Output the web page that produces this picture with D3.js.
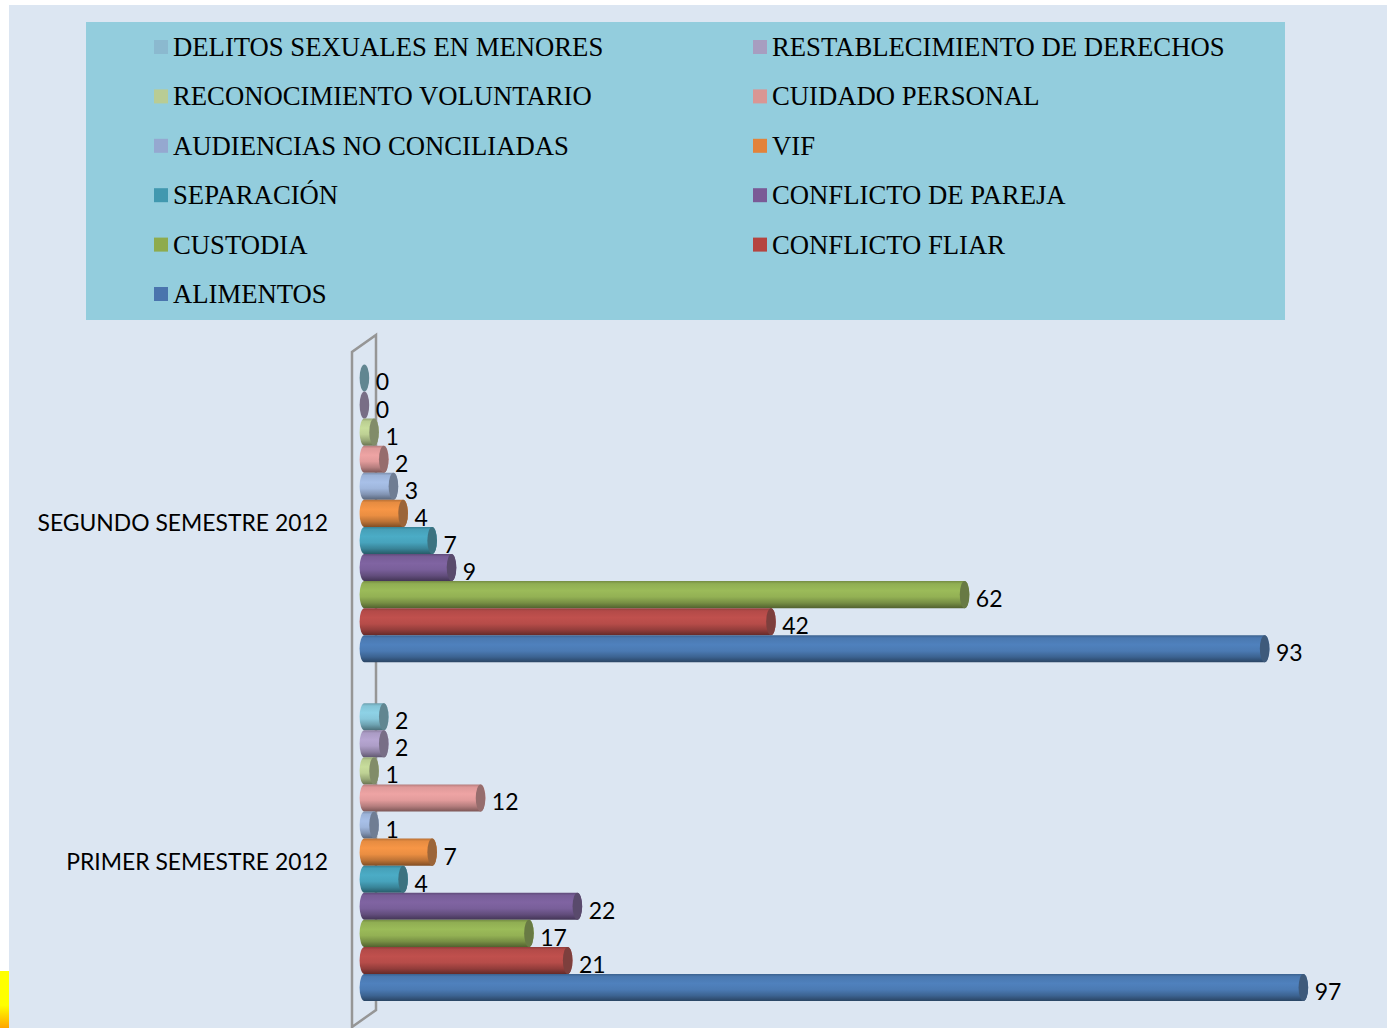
<!DOCTYPE html>
<html>
<head>
  <meta charset="utf-8">
  <title>Conciliaciones 2012</title>
  <script src="https://cdn.jsdelivr.net/npm/d3@7"></script>
  <style>
    html, body { margin: 0; padding: 0; background: #fff; overflow: hidden; }
    svg { display: block; }
  </style>
</head>
<body>
<div id="chart"></div>
<script>
// values, top to bottom inside each group
var semesters = ["SEGUNDO SEMESTRE 2012", "PRIMER SEMESTRE 2012"];
var categories = ["DELITOS SEXUALES EN MENORES", "RESTABLECIMIENTO DE DERECHOS",
  "RECONOCIMIENTO VOLUNTARIO", "CUIDADO PERSONAL", "AUDIENCIAS NO CONCILIADAS", "VIF",
  "SEPARACIÓN", "CONFLICTO DE PAREJA", "CUSTODIA", "CONFLICTO FLIAR", "ALIMENTOS"];
var segundo = [0, 0, 1, 2, 3, 4, 7, 9, 62, 42, 93];
var primero = [2, 2, 1, 12, 1, 7, 4, 22, 17, 21, 97];

var barColors = ["#8ed2e6", "#b7a6d2", "#c8dd9c", "#eea4a4", "#a8c0e8", "#f79646",
  "#4bacc6", "#8064a2", "#9bbb59", "#c0504d", "#4f81bd"];
var swatchColors = ["#8bb9cf", "#a79dc0", "#b9cc94", "#d99694", "#95a8d0", "#e3833a",
  "#4198af", "#7a5a96", "#8eab4d", "#b5443f", "#4a74ad"];

var width = 1387, height = 1028;

var svg = d3.select("#chart").append("svg")
  .attr("width", width).attr("height", height);

// scales
var x = d3.scaleLinear().domain([0, 100]).range([364.4, 1332.4]);
var y0 = d3.scaleBand().domain(semesters).range([344, 1021.5]);
var y1 = d3.scaleBand().domain(categories).range([0, y0.bandwidth()])
  .paddingInner(0).paddingOuter(0.755);

var rx = 4.8, ry = y1.bandwidth() / 2;

function capColor(c) {
  return d3.interpolateRgb(c, "#2a2a2a")(0.45);
}

// one shaded gradient per series
var defs = svg.append("defs");
categories.forEach(function (c, i) {
  var base = d3.color(barColors[i]);
  var g = defs.append("linearGradient").attr("id", "cyl" + i)
    .attr("x1", 0).attr("x2", 0).attr("y1", 0).attr("y2", 1);
  g.append("stop").attr("offset", "0%").attr("stop-color", base.darker(0.8));
  g.append("stop").attr("offset", "10%").attr("stop-color", base.darker(0.2));
  g.append("stop").attr("offset", "35%").attr("stop-color", base);
  g.append("stop").attr("offset", "58%").attr("stop-color", base.darker(0.15));
  g.append("stop").attr("offset", "80%").attr("stop-color", base.darker(0.75));
  g.append("stop").attr("offset", "100%").attr("stop-color", base.darker(1.8));
});

// page panel and the yellow mark at the left edge
var edge = defs.append("linearGradient").attr("id", "edge")
  .attr("x1", 0).attr("x2", 0).attr("y1", 0).attr("y2", 1);
edge.append("stop").attr("offset", "60%").attr("stop-color", "#ffff00");
edge.append("stop").attr("offset", "100%").attr("stop-color", "#ffa500");

svg.append("rect").attr("x", 9).attr("y", 5).attr("width", width - 9).attr("height", height - 5)
  .attr("fill", "#dce6f2");
svg.append("rect").attr("x", 0).attr("y", 971).attr("width", 9).attr("height", 57)
  .attr("fill", "url(#edge)");

// legend
svg.append("rect").attr("x", 86).attr("y", 22).attr("width", 1199).attr("height", 298)
  .attr("fill", "#93cddd");

var legendX = d3.scalePoint().domain([0, 1]).range([154, 753]);
var legendY = d3.scalePoint().domain(d3.range(6)).range([47, 294]);

var legend = svg.append("g").selectAll("g").data(categories).enter().append("g")
  .attr("transform", function (d, i) {
    return "translate(" + legendX(i % 2) + "," + legendY(Math.floor(i / 2)) + ")";
  });
legend.append("rect").attr("x", 0).attr("y", -7).attr("width", 14).attr("height", 14)
  .attr("fill", function (d, i) { return swatchColors[i]; });
legend.append("text").attr("x", 19).attr("y", 9)
  .style("font-family", "'Liberation Serif'").style("font-size", "26.7px").attr("fill", "#000")
  .text(function (d) { return d; });

// 3d wall behind the bars
var wall = svg.append("g").attr("fill", "none").attr("stroke", "#969696").attr("stroke-width", 2.5);
wall.append("path").attr("d", d3.line()([[352, 1028], [352, 352], [376, 335], [376, 1010], [352, 1027]]));

// category axis
var axis = svg.append("g").attr("transform", "translate(328,10.5)")
  .call(d3.axisLeft(y0).tickSize(0).tickPadding(0));
axis.select(".domain").remove();
axis.selectAll("text").style("font-family", "Lato").style("font-size", "22.9px").attr("fill", "#000");

// cylinders
var rows = [segundo, primero];
var groups = svg.append("g").selectAll("g").data(semesters).enter().append("g")
  .attr("transform", function (d) { return "translate(0," + y0(d) + ")"; });

var bars = groups.selectAll("g.bar").data(function (d, g) {
  return categories.map(function (c, i) { return { cat: c, i: i, v: rows[g][i] }; });
}).enter().append("g").attr("class", "bar")
  .attr("transform", function (d) { return "translate(0," + (y1(d.cat) + ry) + ")"; });

bars.filter(function (d) { return d.v > 0; }).append("path")
  .attr("fill", function (d) { return "url(#cyl" + d.i + ")"; })
  .attr("d", function (d) {
    var a = x(0), b = x(d.v);
    return "M" + a + "," + (-ry) + "L" + b + "," + (-ry) +
      "A" + rx + "," + ry + " 0 0 1 " + b + "," + ry +
      "L" + a + "," + ry +
      "A" + rx + "," + ry + " 0 0 1 " + a + "," + (-ry) + "Z";
  });

bars.append("ellipse")
  .attr("cx", function (d) { return x(d.v); })
  .attr("rx", rx).attr("ry", ry)
  .attr("fill", function (d) { return capColor(barColors[d.i]); });

// labels go on top of all the bars
groups.selectAll("text.val").data(function (d, g) {
  return categories.map(function (c, i) { return { cat: c, i: i, v: rows[g][i] }; });
}).enter().append("text").attr("class", "val")
  .attr("x", function (d) { return x(d.v) + rx + 6.5; })
  .attr("y", function (d) { return y1(d.cat) + ry + 12.5; })
  .style("font-family", "Lato").style("font-size", "23px").attr("fill", "#000")
  .text(function (d) { return d.v; });
</script>
</body>
</html>
